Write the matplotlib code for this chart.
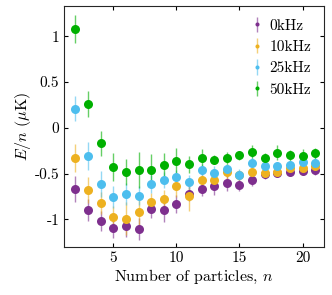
import numpy as np
import matplotlib
matplotlib.use("Agg")
from matplotlib import pyplot as plt

plt.rcParams['font.family'] = 'serif'
plt.rcParams['font.serif'] = ['cmr10']
plt.rcParams['mathtext.fontset'] = 'cm'
plt.rcParams['axes.unicode_minus'] = False
plt.rcParams['axes.formatter.use_mathtext'] = True

# Data
n = np.arange(2, 22)

e_0k = [-0.67, -0.90, -1.02, -1.09, -1.07, -1.10, -0.89, -0.90, -0.83, -0.72,
        -0.67, -0.64, -0.60, -0.62, -0.57, -0.50, -0.49, -0.48, -0.47, -0.46]
err_0k = [0.14, 0.12, 0.11, 0.11, 0.12, 0.12, 0.09, 0.13, 0.10, 0.08,
          0.07, 0.09, 0.09, 0.07, 0.06, 0.06, 0.05, 0.05, 0.05, 0.06]

e_10k = [-0.33, -0.68, -0.82, -0.97, -0.99, -0.92, -0.81, -0.78, -0.64, -0.74,
         -0.57, -0.57, -0.48, -0.52, -0.48, -0.49, -0.48, -0.44, -0.44, -0.42]
err_10k = [0.15, 0.14, 0.12, 0.12, 0.18, 0.15, 0.10, 0.10, 0.12, 0.17,
           0.07, 0.07, 0.08, 0.06, 0.06, 0.06, 0.05, 0.05, 0.05, 0.05]

e_25k = [0.21, -0.31, -0.61, -0.75, -0.72, -0.74, -0.61, -0.57, -0.54, -0.59,
         -0.46, -0.49, -0.45, -0.51, -0.38, -0.42, -0.42, -0.41, -0.37, -0.38]
err_25k = [0.14, 0.15, 0.14, 0.12, 0.12, 0.10, 0.10, 0.09, 0.08, 0.08,
           0.07, 0.07, 0.06, 0.06, 0.06, 0.05, 0.05, 0.05, 0.05, 0.05]

e_50k = [1.08, 0.26, -0.17, -0.43, -0.48, -0.46, -0.46, -0.41, -0.36, -0.40,
         -0.33, -0.35, -0.33, -0.30, -0.26, -0.33, -0.27, -0.30, -0.31, -0.28]
err_50k = [0.15, 0.14, 0.14, 0.15, 0.14, 0.20, 0.17, 0.14, 0.14, 0.09,
           0.10, 0.05, 0.07, 0.05, 0.07, 0.05, 0.08, 0.06, 0.08, 0.06]

labels = ['0kHz', '10kHz', '25kHz', '50kHz']
colors = ['#7E2F8E', '#EDB120', '#4DBEEE', '#00B000']

fig = plt.figure(figsize=(3.32, 2.95), dpi=100)
ax = fig.add_axes([0.193, 0.163, 0.783, 0.817])

series = [(e_0k, err_0k), (e_10k, err_10k), (e_25k, err_25k), (e_50k, err_50k)]
for (e, err), lab, c in zip(series, labels, colors):
    eb = ax.errorbar(n, e, yerr=err, fmt='o', color=c, ms=6.5, mew=0,
                     ecolor=c, elinewidth=1, capsize=2, capthick=1, label=lab)
    for art in eb[1] + eb[2]:
        art.set_alpha(0.6)

ax.set_xlim(1.1, 21.7)
ax.set_ylim(-1.3, 1.33)
ax.set_xticks([5, 10, 15, 20])
ax.set_xticklabels(['5', '10', '15', '20'])
ax.set_yticks([-1, -0.5, 0, 0.5, 1])
ax.set_yticklabels(['-1', '-0.5', '0', '0.5', '1'])
ax.tick_params(direction='in', top=True, right=True, labelsize=11, length=3)
for s in ax.spines.values():
    s.set_linewidth(0.8)
    s.set_color('#262626')

ax.set_xlabel('Number of particles, $n$', fontsize=11.5, labelpad=2)
ax.set_ylabel(r'$E/n$ ($\mu$K)', fontsize=11.5, labelpad=1)

ax.legend(loc='upper right', frameon=False, fontsize=11, markerscale=0.45,
          handlelength=1.0, handletextpad=0.3, labelspacing=0.5,
          borderaxespad=0.45)

fig.savefig('out.png', dpi=100)
